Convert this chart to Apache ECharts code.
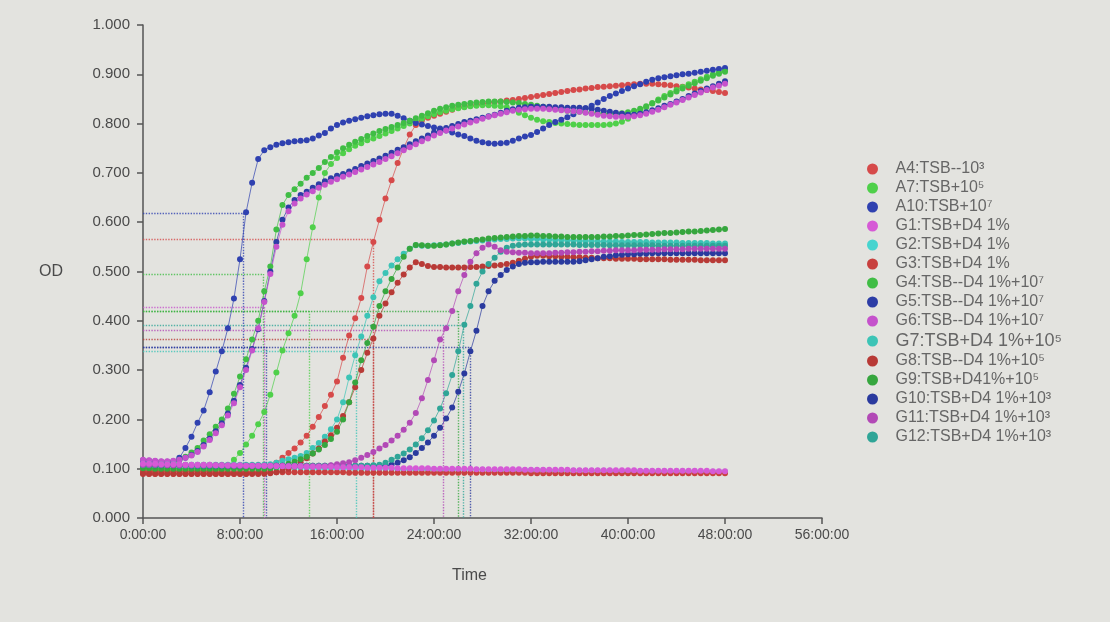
<!DOCTYPE html>
<html>
<head>
<meta charset="utf-8">
<script src="https://cdn.jsdelivr.net/npm/echarts@6/dist/echarts.min.js"></script>
<style>
  html, body { margin: 0; padding: 0; background: #e3e3df; }
  #chart { width: 1110px; height: 622px; }
</style>
</head>
<body>
<div id="chart"></div>
<script>
// Plate reader growth curves: OD read every 30 minutes from 0 to 48 h.
const times = Array.from({ length: 97 }, (_, i) => i * 0.5);

const wellNames = [
  'A4:TSB--10³', 'A7:TSB+10⁵', 'A10:TSB+10⁷',
  'G1:TSB+D4 1%', 'G2:TSB+D4 1%', 'G3:TSB+D4 1%',
  'G4:TSB--D4 1%+10⁷', 'G5:TSB--D4 1%+10⁷', 'G6:TSB--D4 1%+10⁷',
  'G7:TSB+D4 1%+10⁵', 'G8:TSB--D4 1%+10⁵', 'G9:TSB+D41%+10⁵',
  'G10:TSB+D4 1%+10³', 'G11:TSB+D4 1%+10³', 'G12:TSB+D4 1%+10³'
];

const wellColors = [
  '#d64a4a', '#4fd04a', '#2f41b0',
  '#d65ad6', '#46d4cf', '#c8403e',
  '#40bd45', '#2d3da6', '#c552cc',
  '#3cc4b6', '#b83a36', '#36a63e',
  '#2a3a9e', '#b249b6', '#2fa597'
];

const A4 = [
  0.091,0.090,0.090,0.090,0.090,0.090,0.090,0.090,0.090,0.090,
  0.090,0.090,0.090,0.090,0.090,0.090,0.090,0.090,0.091,0.092,
  0.094,0.100,0.112,0.122,0.132,0.141,0.153,0.167,0.185,0.205,
  0.227,0.250,0.277,0.325,0.370,0.405,0.446,0.510,0.560,0.605,
  0.648,0.685,0.720,0.750,0.778,0.797,0.807,0.812,0.816,0.820,
  0.824,0.828,0.832,0.834,0.836,0.838,0.840,0.842,0.844,0.845,
  0.847,0.848,0.850,0.852,0.854,0.856,0.858,0.860,0.862,0.864,
  0.866,0.868,0.869,0.871,0.872,0.874,0.875,0.876,0.877,0.878,
  0.879,0.880,0.881,0.881,0.881,0.880,0.879,0.878,0.876,0.875,
  0.873,0.871,0.869,0.868,0.866,0.864,0.862
];
const A7 = [
  0.098,0.098,0.097,0.097,0.097,0.097,0.097,0.097,0.097,0.097,
  0.097,0.097,0.097,0.098,0.106,0.118,0.132,0.149,0.167,0.190,
  0.215,0.250,0.295,0.340,0.375,0.410,0.456,0.525,0.590,0.650,
  0.700,0.718,0.730,0.740,0.748,0.755,0.760,0.766,0.770,0.775,
  0.780,0.785,0.790,0.795,0.800,0.805,0.810,0.815,0.819,0.823,
  0.826,0.829,0.831,0.833,0.835,0.836,0.837,0.837,0.836,0.835,
  0.833,0.828,0.822,0.817,0.812,0.808,0.805,0.803,0.801,0.800,
  0.799,0.798,0.797,0.797,0.797,0.797,0.797,0.798,0.800,0.804,
  0.810,0.817,0.825,0.833,0.842,0.849,0.856,0.862,0.868,0.874,
  0.880,0.885,0.890,0.895,0.900,0.904,0.908
];
const A10 = [
  0.112,0.110,0.108,0.107,0.106,0.112,0.122,0.142,0.165,0.193,
  0.218,0.255,0.297,0.338,0.385,0.445,0.525,0.620,0.680,0.728,
  0.746,0.752,0.757,0.760,0.762,0.764,0.765,0.766,0.770,0.776,
  0.781,0.790,0.797,0.802,0.806,0.809,0.812,0.815,0.817,0.819,
  0.820,0.820,0.816,0.811,0.806,0.801,0.798,0.795,0.792,0.790,
  0.786,0.782,0.778,0.775,0.770,0.765,0.762,0.760,0.759,0.760,
  0.761,0.765,0.770,0.774,0.777,0.783,0.790,0.797,0.803,0.808,
  0.813,0.819,0.826,0.831,0.836,0.843,0.850,0.856,0.861,0.866,
  0.871,0.876,0.880,0.885,0.889,0.892,0.894,0.896,0.898,0.900,
  0.901,0.903,0.905,0.907,0.909,0.911,0.913
];
const G1 = [
  0.110,0.110,0.110,0.109,0.109,0.109,0.109,0.108,0.108,0.108,
  0.108,0.108,0.107,0.107,0.107,0.107,0.107,0.106,0.106,0.106,
  0.106,0.106,0.105,0.105,0.105,0.105,0.105,0.104,0.104,0.104,
  0.104,0.104,0.103,0.103,0.103,0.103,0.103,0.102,0.102,0.102,
  0.102,0.102,0.101,0.101,0.101,0.101,0.101,0.101,0.100,0.100,
  0.100,0.100,0.100,0.100,0.100,0.099,0.099,0.099,0.099,0.099,
  0.099,0.099,0.099,0.098,0.098,0.098,0.098,0.098,0.098,0.098,
  0.098,0.097,0.097,0.097,0.097,0.097,0.097,0.097,0.097,0.097,
  0.097,0.097,0.096,0.096,0.096,0.096,0.096,0.096,0.096,0.096,
  0.096,0.096,0.096,0.096,0.095,0.095,0.095
];
const G2 = [
  0.106,0.106,0.105,0.105,0.105,0.105,0.105,0.105,0.104,0.104,
  0.104,0.104,0.104,0.104,0.103,0.103,0.103,0.103,0.103,0.103,
  0.103,0.102,0.102,0.102,0.102,0.102,0.102,0.102,0.101,0.101,
  0.101,0.101,0.101,0.101,0.101,0.100,0.100,0.100,0.100,0.100,
  0.100,0.100,0.099,0.099,0.099,0.099,0.099,0.099,0.099,0.098,
  0.098,0.098,0.098,0.098,0.098,0.098,0.098,0.097,0.097,0.097,
  0.097,0.097,0.097,0.097,0.097,0.097,0.097,0.096,0.096,0.096,
  0.096,0.096,0.096,0.096,0.096,0.096,0.096,0.096,0.095,0.095,
  0.095,0.095,0.095,0.095,0.095,0.095,0.095,0.095,0.095,0.095,
  0.095,0.095,0.094,0.094,0.094,0.094,0.094
];
const G3 = [
  0.094,0.094,0.094,0.094,0.094,0.094,0.094,0.094,0.094,0.094,
  0.094,0.094,0.093,0.093,0.093,0.093,0.093,0.093,0.093,0.093,
  0.093,0.093,0.093,0.093,0.093,0.093,0.093,0.093,0.093,0.093,
  0.093,0.093,0.093,0.093,0.092,0.092,0.092,0.092,0.092,0.092,
  0.092,0.092,0.092,0.092,0.092,0.092,0.092,0.092,0.092,0.092,
  0.092,0.092,0.092,0.092,0.092,0.092,0.092,0.092,0.092,0.092,
  0.092,0.092,0.092,0.092,0.091,0.091,0.091,0.091,0.091,0.091,
  0.091,0.091,0.091,0.091,0.091,0.091,0.091,0.091,0.091,0.091,
  0.091,0.091,0.091,0.091,0.091,0.091,0.091,0.091,0.091,0.091,
  0.091,0.091,0.091,0.091,0.091,0.091,0.091
];
const G4 = [
  0.115,0.114,0.113,0.112,0.112,0.113,0.118,0.124,0.133,0.142,
  0.157,0.170,0.185,0.200,0.222,0.252,0.287,0.322,0.362,0.400,
  0.460,0.510,0.585,0.635,0.655,0.667,0.678,0.690,0.700,0.710,
  0.722,0.732,0.742,0.750,0.757,0.763,0.769,0.775,0.780,0.785,
  0.789,0.793,0.797,0.801,0.806,0.811,0.816,0.821,0.826,0.830,
  0.833,0.836,0.838,0.840,0.842,0.843,0.844,0.845,0.845,0.845,
  0.844,0.843,0.842,0.840,0.838,0.836,0.834,0.832,0.830,0.828,
  0.826,0.825,0.824,0.823,0.822,0.821,0.820,0.820,0.820,0.821,
  0.823,0.826,0.830,0.835,0.841,0.847,0.853,0.859,0.865,0.871,
  0.877,0.882,0.887,0.892,0.897,0.901,0.905
];
const G5 = [
  0.117,0.116,0.115,0.114,0.114,0.115,0.118,0.122,0.128,0.136,
  0.148,0.161,0.176,0.192,0.212,0.238,0.270,0.305,0.343,0.383,
  0.440,0.500,0.560,0.605,0.630,0.645,0.655,0.662,0.670,0.677,
  0.683,0.689,0.694,0.698,0.703,0.708,0.714,0.719,0.724,0.729,
  0.735,0.741,0.747,0.752,0.758,0.764,0.770,0.776,0.782,0.787,
  0.791,0.795,0.799,0.803,0.806,0.809,0.812,0.815,0.818,0.822,
  0.826,0.829,0.832,0.833,0.834,0.834,0.834,0.834,0.833,0.833,
  0.832,0.832,0.832,0.831,0.830,0.828,0.826,0.824,0.822,0.820,
  0.818,0.818,0.820,0.823,0.827,0.831,0.836,0.840,0.845,0.850,
  0.856,0.861,0.866,0.871,0.876,0.881,0.886
];
const G6 = [
  0.118,0.117,0.116,0.115,0.115,0.116,0.118,0.122,0.127,0.134,
  0.145,0.158,0.172,0.188,0.208,0.233,0.265,0.300,0.340,0.385,
  0.438,0.495,0.550,0.595,0.622,0.638,0.648,0.656,0.663,0.670,
  0.676,0.682,0.687,0.692,0.697,0.702,0.707,0.712,0.717,0.722,
  0.728,0.734,0.740,0.746,0.752,0.758,0.764,0.770,0.776,0.781,
  0.786,0.790,0.794,0.798,0.802,0.806,0.810,0.814,0.817,0.820,
  0.823,0.826,0.828,0.829,0.830,0.830,0.830,0.829,0.828,0.827,
  0.826,0.825,0.824,0.822,0.820,0.818,0.816,0.815,0.814,0.814,
  0.814,0.815,0.817,0.820,0.824,0.828,0.833,0.838,0.843,0.848,
  0.853,0.858,0.863,0.868,0.873,0.877,0.881
];
const G7 = [
  0.110,0.110,0.109,0.109,0.109,0.109,0.108,0.108,0.108,0.108,
  0.108,0.108,0.108,0.108,0.108,0.108,0.108,0.108,0.108,0.108,
  0.108,0.109,0.112,0.116,0.119,0.122,0.126,0.132,0.142,0.152,
  0.165,0.180,0.200,0.235,0.285,0.330,0.368,0.410,0.448,0.480,
  0.497,0.512,0.525,0.536,0.546,0.553,0.552,0.552,0.553,0.554,
  0.555,0.557,0.558,0.560,0.561,0.562,0.563,0.564,0.565,0.566,
  0.566,0.567,0.567,0.567,0.566,0.566,0.565,0.565,0.564,0.564,
  0.563,0.563,0.562,0.562,0.562,0.561,0.561,0.561,0.561,0.560,
  0.560,0.560,0.560,0.560,0.559,0.559,0.559,0.559,0.559,0.558,
  0.558,0.558,0.558,0.558,0.557,0.557,0.557
];
const G8 = [
  0.089,0.089,0.089,0.089,0.089,0.089,0.089,0.089,0.089,0.089,
  0.089,0.089,0.089,0.089,0.089,0.089,0.089,0.089,0.089,0.089,
  0.090,0.091,0.093,0.096,0.100,0.106,0.113,0.121,0.131,0.141,
  0.155,0.168,0.183,0.207,0.235,0.265,0.300,0.335,0.364,0.410,
  0.435,0.458,0.477,0.494,0.508,0.519,0.515,0.511,0.509,0.509,
  0.508,0.508,0.508,0.508,0.509,0.509,0.510,0.511,0.512,0.513,
  0.515,0.518,0.522,0.526,0.530,0.532,0.532,0.531,0.531,0.530,
  0.530,0.529,0.529,0.528,0.528,0.527,0.527,0.527,0.526,0.526,
  0.526,0.526,0.525,0.525,0.525,0.525,0.525,0.524,0.524,0.524,
  0.524,0.524,0.523,0.523,0.523,0.523,0.523
];
const G9 = [
  0.101,0.101,0.100,0.100,0.100,0.100,0.100,0.100,0.100,0.100,
  0.100,0.100,0.100,0.100,0.100,0.100,0.100,0.100,0.100,0.100,
  0.100,0.101,0.103,0.106,0.110,0.114,0.119,0.124,0.131,0.139,
  0.148,0.160,0.175,0.200,0.235,0.275,0.320,0.355,0.388,0.430,
  0.460,0.485,0.508,0.530,0.546,0.554,0.553,0.552,0.552,0.553,
  0.555,0.557,0.559,0.561,0.562,0.564,0.565,0.567,0.568,0.569,
  0.570,0.571,0.572,0.572,0.573,0.573,0.572,0.572,0.571,0.571,
  0.570,0.570,0.570,0.570,0.570,0.570,0.571,0.571,0.572,0.572,
  0.573,0.574,0.574,0.575,0.576,0.577,0.578,0.578,0.579,0.580,
  0.581,0.581,0.582,0.583,0.584,0.585,0.586
];
const G10 = [
  0.108,0.108,0.107,0.107,0.107,0.107,0.107,0.107,0.106,0.106,
  0.106,0.106,0.106,0.106,0.106,0.106,0.106,0.106,0.106,0.106,
  0.106,0.106,0.106,0.106,0.106,0.106,0.106,0.106,0.106,0.106,
  0.106,0.106,0.106,0.106,0.106,0.106,0.106,0.106,0.106,0.106,
  0.106,0.108,0.112,0.117,0.123,0.132,0.142,0.153,0.167,0.183,
  0.202,0.224,0.256,0.293,0.338,0.380,0.430,0.460,0.481,0.493,
  0.503,0.510,0.515,0.518,0.519,0.519,0.520,0.520,0.520,0.520,
  0.520,0.520,0.521,0.523,0.525,0.527,0.530,0.531,0.533,0.534,
  0.535,0.535,0.536,0.536,0.537,0.537,0.537,0.537,0.537,0.537,
  0.537,0.537,0.537,0.537,0.537,0.537,0.537
];
const G11 = [
  0.108,0.108,0.108,0.108,0.107,0.107,0.107,0.107,0.107,0.107,
  0.107,0.107,0.107,0.107,0.106,0.106,0.106,0.106,0.106,0.106,
  0.106,0.106,0.106,0.106,0.105,0.105,0.105,0.105,0.105,0.105,
  0.105,0.107,0.109,0.111,0.113,0.117,0.122,0.128,0.134,0.141,
  0.148,0.157,0.167,0.179,0.193,0.213,0.243,0.280,0.320,0.362,
  0.385,0.420,0.460,0.493,0.520,0.537,0.548,0.555,0.550,0.543,
  0.540,0.539,0.538,0.538,0.537,0.537,0.537,0.537,0.538,0.538,
  0.539,0.539,0.540,0.540,0.541,0.541,0.542,0.542,0.543,0.543,
  0.543,0.543,0.544,0.544,0.544,0.544,0.545,0.545,0.545,0.545,
  0.546,0.546,0.546,0.546,0.546,0.546,0.546
];
const G12 = [
  0.107,0.107,0.107,0.107,0.107,0.107,0.106,0.106,0.106,0.106,
  0.106,0.106,0.106,0.106,0.106,0.106,0.106,0.106,0.106,0.106,
  0.106,0.106,0.106,0.106,0.106,0.106,0.106,0.106,0.106,0.106,
  0.106,0.106,0.106,0.106,0.106,0.106,0.106,0.106,0.107,0.108,
  0.112,0.118,0.124,0.131,0.139,0.149,0.162,0.178,0.198,0.222,
  0.253,0.290,0.338,0.392,0.430,0.475,0.500,0.515,0.528,0.540,
  0.548,0.552,0.554,0.555,0.555,0.555,0.555,0.555,0.555,0.555,
  0.555,0.555,0.554,0.554,0.554,0.554,0.554,0.553,0.553,0.553,
  0.553,0.553,0.553,0.553,0.553,0.552,0.552,0.552,0.552,0.552,
  0.552,0.552,0.552,0.552,0.552,0.552,0.552
];

const wellValues = [A4, A7, A10, G1, G2, G3, G4, G5, G6, G7, G8, G9, G10, G11, G12];

// Threshold crossings shown as dotted guides: well index, time (h), OD
const thresholdWell = [2, 0, 6, 8, 1, 7, 9, 10, 11, 13, 12, 14];
const thresholdTime = [8.3, 19.0, 9.9, 10.0, 13.7, 10.2, 17.6, 19.0, 26.0, 24.8, 27.0, 26.4];
const thresholdOD   = [0.618, 0.565, 0.495, 0.428, 0.42, 0.347, 0.338, 0.362, 0.42, 0.38, 0.347, 0.39];

const yTickLabels = ['0.000','0.100','0.200','0.300','0.400','0.500','0.600','0.700','0.800','0.900','1.000'];

const FONT = '"Liberation Sans", Arial, "DejaVu Sans", sans-serif';

// Drawing order on top of the others: the flat control and the late magenta well
const zByWell = { 3: 6, 13: 5 };

const series = wellNames.map((name, k) => {
  const guides = [];
  thresholdWell.forEach((w, j) => {
    if (w !== k) return;
    const t = thresholdTime[j], v = thresholdOD[j];
    guides.push([{ coord: [0, v] }, { coord: [t, v] }]);
    guides.push([{ coord: [t, v] }, { coord: [t, 0] }]);
  });
  const s = {
    name: name,
    type: 'line',
    data: times.map((t, i) => [t, wellValues[k][i]]),
    symbol: 'circle',
    symbolSize: 6,
    showAllSymbol: true,
    lineStyle: { width: 1, color: wellColors[k], opacity: 0.7 },
    itemStyle: { color: wellColors[k] },
    emphasis: { disabled: true },
    z: zByWell[k] || 3
  };
  if (guides.length) {
    s.markLine = {
      silent: true,
      symbol: ['none', 'none'],
      label: { show: false },
      lineStyle: { type: 'dotted', width: 1.4, color: wellColors[k], opacity: 0.8 },
      data: guides,
      z: 1
    };
  }
  return s;
});

const chart = echarts.init(document.getElementById('chart'));
chart.setOption({
  animation: false,
  backgroundColor: '#e3e3df',
  textStyle: { fontFamily: FONT },
  grid: { left: 143, right: 288, top: 25, bottom: 104, containLabel: false },
  xAxis: {
    type: 'value',
    min: 0, max: 56, interval: 8,
    name: 'Time',
    nameLocation: 'middle',
    nameGap: 50,
    nameTextStyle: { fontSize: 16, color: '#4a4a4a', fontFamily: FONT, padding: [0, 26, 0, 0] },
    axisLine: { show: true, lineStyle: { color: '#555', width: 1.5 } },
    axisTick: { show: true, length: 6, inside: false, lineStyle: { color: '#555', width: 1.5 } },
    axisLabel: {
      margin: 10, fontSize: 14, color: '#4a4a4a', fontFamily: FONT,
      formatter: v => v + ':00:00'
    },
    splitLine: { show: false }
  },
  yAxis: {
    type: 'value',
    min: 0, max: 1, interval: 0.1,
    name: 'OD',
    nameLocation: 'middle',
    nameRotate: 0,
    nameGap: 80,
    nameTextStyle: { fontSize: 16, color: '#4a4a4a', fontFamily: FONT },
    axisLine: { show: true, lineStyle: { color: '#555', width: 1.5 } },
    axisTick: { show: true, length: 6, inside: false, lineStyle: { color: '#555', width: 1.5 } },
    axisLabel: {
      margin: 13, fontSize: 15, color: '#4a4a4a', fontFamily: FONT,
      formatter: v => yTickLabels[Math.round(v * 10)]
    },
    splitLine: { show: false }
  },
  legend: {
    orient: 'vertical',
    left: 862,
    top: 156,
    icon: 'circle',
    itemWidth: 36,
    itemHeight: 11,
    itemGap: 3,
    selectedMode: false,
    textStyle: { fontSize: 16, lineHeight: 14, color: '#666', fontFamily: FONT },
    data: wellNames.map(n => n.indexOf('G7') === 0
      ? { name: n, textStyle: { fontSize: 18, lineHeight: 14, color: '#666' } }
      : n)
  },
  series: series
});
</script>
</body>
</html>
